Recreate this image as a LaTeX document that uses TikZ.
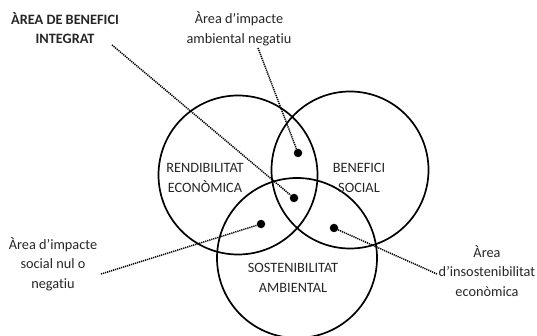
\documentclass[tikz,border=0pt]{standalone}
\usepackage{fontspec}
\setmainfont{Carlito}[Ligatures={NoCommon,NoRare,NoDiscretionary}]
\begin{document}
\begin{tikzpicture}[x=1pt,y=-1pt,
  ring/.style={circle,draw,line width=1.7pt,minimum size=#1,inner sep=0pt},
  dotn/.style={circle,fill,minimum size=8.5pt,inner sep=0pt},
  lbl/.style={align=center,font=\fontsize{14.3}{19.5}\selectfont,inner sep=0pt,text=black!85},
  link/.style={line width=1.5pt,dash pattern=on 1.2pt off 0.9pt}]
\useasboundingbox (0,0) rectangle (537,336);
\node[ring=159pt] (cE) at (238,175) {};
\node[ring=157pt] (cS) at (350,170) {};
\node[ring=160pt] (cA) at (297,258) {};
\node[lbl] (tE) at (205,178) {RENDIBILITAT\\ECONÒMICA};
\node[lbl] (tS) at (359,178) {BENEFICI\\SOCIAL};
\node[lbl] (tA) at (293,278) {SOSTENIBILITAT\\AMBIENTAL};
\node[dotn] (d1) at (298,153) {};
\node[dotn] (d2) at (294,198) {};
\node[dotn] (d3) at (261,224) {};
\node[dotn] (d4) at (334,228) {};
\node[lbl,font=\fontsize{14.3}{19.5}\selectfont\bfseries] (l1) at (65,28) {ÀREA DE BENEFICI\\INTEGRAT};
\node[lbl] (l2) at (239,29) {Àrea d’impacte\\ambiental negatiu};
\node[lbl] (l3) at (53,264) {Àrea d’impacte\\social nul o\\negatiu};
\node[lbl] (l4) at (487,271) {Àrea\\d’insostenibilitat\\econòmica};
\coordinate (e1) at (112,45);
\coordinate (e2) at (258,48);
\coordinate (e3) at (101,274);
\coordinate (e4) at (437,274);
\draw[link] (e1) -- (d2);
\draw[link] (e2) -- (d1);
\draw[link] (e3) -- (d3);
\draw[link] (d4) -- (e4);
\end{tikzpicture}
\end{document}
